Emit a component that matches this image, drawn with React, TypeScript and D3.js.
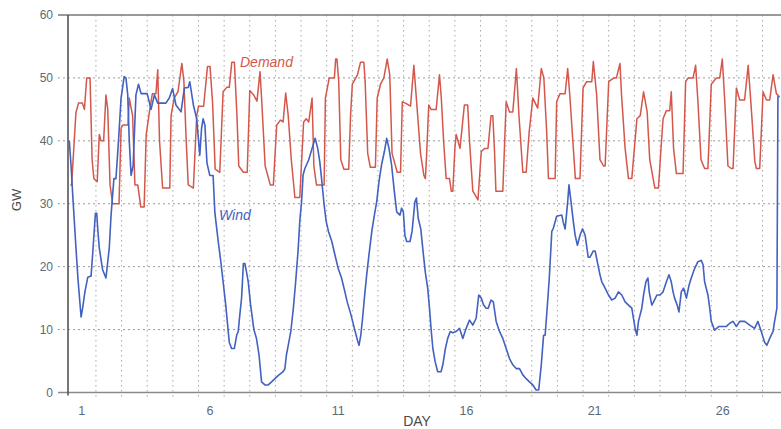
import React from "react";
import * as d3 from "d3";

// time in days from start of day 1, value in GW
const demand: [number, number][] = [
  [0.0, 33], [0.05, 33], [0.22, 44.5], [0.32, 46], [0.47, 46], [0.55, 45], [0.64, 50], [0.77, 50], [0.85, 37], [0.92, 34], [1.05, 33.5],
  [1.13, 41], [1.2, 40], [1.3, 40], [1.39, 47.3], [1.46, 45], [1.55, 33], [1.65, 30], [1.9, 30], [1.98, 42], [2.05, 42.5], [2.25, 42.5],
  [2.3, 46.8], [2.43, 44], [2.52, 33], [2.63, 33], [2.75, 29.5], [2.88, 29.5], [2.96, 41], [3.1, 45], [3.2, 47.5], [3.34, 47.5], [3.41, 51.3],
  [3.48, 40], [3.6, 32.5], [3.88, 32.5], [3.93, 44], [4.05, 46.8], [4.2, 47.8], [4.35, 52.3], [4.43, 49.5], [4.52, 40], [4.6, 33], [4.8, 32.5],
  [4.93, 44], [5.0, 45.5], [5.2, 45.5], [5.35, 51.8], [5.45, 51.8], [5.55, 46], [5.65, 35.5], [5.83, 35], [5.96, 47.8], [6.1, 48.5], [6.2, 48.5],
  [6.3, 52.5], [6.4, 52.5], [6.5, 44], [6.57, 36], [6.75, 35], [6.9, 35], [7.0, 48], [7.15, 47.3], [7.28, 46.3], [7.4, 51], [7.46, 46.8],
  [7.6, 36], [7.8, 33], [7.92, 33], [8.05, 42.5], [8.2, 43.3], [8.3, 43], [8.4, 47.6], [8.5, 44], [8.62, 37], [8.76, 31], [8.95, 31],
  [9.1, 43], [9.2, 43.5], [9.3, 43], [9.43, 46.8], [9.5, 36], [9.6, 33], [9.9, 33], [9.95, 46.8], [10.1, 50], [10.3, 50], [10.35, 53],
  [10.4, 53], [10.47, 49.4], [10.55, 37], [10.67, 35.5], [10.86, 35.5], [10.93, 44], [11.0, 49], [11.2, 50.5], [11.32, 52.5], [11.45, 52.5],
  [11.5, 49.4], [11.6, 38], [11.7, 35.8], [11.9, 35.8], [11.97, 46.8], [12.1, 49], [12.23, 50], [12.36, 53], [12.46, 50.5], [12.55, 38],
  [12.75, 35], [12.88, 35], [12.95, 46.2], [13.07, 46], [13.27, 45.5], [13.4, 52], [13.53, 45], [13.66, 38], [13.79, 34.5], [13.85, 34],
  [13.9, 38], [13.98, 45.7], [14.07, 45], [14.27, 45], [14.4, 50.5], [14.47, 46.8], [14.56, 40], [14.66, 34], [14.79, 34], [14.86, 32],
  [14.92, 32], [15.0, 38.8], [15.05, 41], [15.2, 38.8], [15.37, 45.7], [15.5, 45.7], [15.57, 40], [15.7, 32], [15.9, 30.6], [16.03, 38.3],
  [16.16, 38.8], [16.29, 38.8], [16.41, 44], [16.48, 44], [16.55, 38], [16.6, 32], [16.87, 32], [17.0, 46.2], [17.13, 44.6], [17.26, 44.6],
  [17.4, 51.5], [17.5, 44], [17.65, 35], [17.78, 35], [17.9, 41.5], [18.04, 46.8], [18.23, 45.2], [18.37, 51.5], [18.47, 50], [18.58, 41.5],
  [18.65, 34], [18.91, 34], [18.97, 46.2], [19.1, 47.5], [19.3, 47.5], [19.4, 51.5], [19.49, 46.8], [19.62, 38.8], [19.7, 34], [19.88, 34],
  [20.0, 48.4], [20.14, 49.4], [20.34, 49.4], [20.4, 52.6], [20.53, 47.3], [20.66, 37], [20.8, 36], [20.86, 36], [21.0, 49.4], [21.2, 50],
  [21.3, 50], [21.44, 52.3], [21.5, 47.3], [21.64, 38.8], [21.77, 34], [21.9, 34], [22.1, 43.5], [22.23, 44], [22.36, 47.8], [22.5, 44.6],
  [22.6, 37], [22.8, 32.5], [22.94, 32.5], [23.04, 38.8], [23.12, 43.5], [23.25, 44.8], [23.38, 44.8], [23.44, 47.8], [23.53, 38.8],
  [23.64, 34.8], [23.9, 34.8], [24.0, 49.4], [24.1, 50], [24.29, 50], [24.39, 52], [24.48, 46.2], [24.6, 37], [24.74, 35.6], [24.87, 35.6],
  [25.0, 49], [25.2, 50], [25.33, 50], [25.43, 53], [25.52, 46.8], [25.65, 36], [25.78, 35.6], [25.85, 35.6], [25.98, 48.4], [26.11, 46.5],
  [26.3, 46.5], [26.44, 52], [26.56, 45.2], [26.7, 36.7], [26.76, 35.6], [26.89, 35.6], [27.02, 47.8], [27.15, 46.5], [27.28, 46.5],
  [27.41, 50.5], [27.54, 47.5], [27.66, 47],
];

const wind: [number, number][] = [
  [-0.04, 40], [0.03, 36], [0.1, 31], [0.22, 23], [0.3, 18], [0.42, 12], [0.48, 13.4], [0.57, 16], [0.68, 18.3], [0.81, 18.5], [0.87, 21.9],
  [0.98, 28.5], [1.03, 28.5], [1.07, 26], [1.13, 23], [1.26, 19.5], [1.39, 18.2], [1.52, 23], [1.59, 28.2], [1.7, 34], [1.78, 34], [1.88, 40],
  [1.98, 46.8], [2.1, 50.2], [2.17, 50], [2.24, 47.3], [2.3, 40], [2.37, 34.5], [2.45, 36], [2.56, 47.3], [2.66, 49], [2.76, 47.5], [3.0, 47.5],
  [3.15, 45], [3.28, 47.3], [3.41, 46], [3.73, 46], [3.86, 46.8], [3.99, 48.3], [4.12, 45.7], [4.32, 44.6], [4.45, 48.4], [4.6, 48.5],
  [4.66, 49.4], [4.8, 45.7], [4.93, 43.5], [5.05, 37.7], [5.12, 42], [5.18, 43.5], [5.25, 42.5], [5.33, 36.5], [5.44, 34.5], [5.57, 34.5],
  [5.64, 28.5], [5.77, 24], [5.87, 20.8], [5.96, 17.6], [6.06, 14], [6.2, 8], [6.29, 7], [6.4, 7], [6.49, 9.1], [6.55, 9.7], [6.61, 12.3],
  [6.68, 15], [6.75, 20.5], [6.81, 20.5], [6.87, 19.2], [6.94, 17.6], [7.03, 14], [7.16, 10], [7.26, 8.6], [7.36, 6], [7.46, 1.7], [7.59, 1.2],
  [7.72, 1.2], [7.85, 1.7], [7.98, 2.2], [8.14, 2.8], [8.3, 3.3], [8.37, 3.8], [8.43, 6], [8.5, 7.5], [8.6, 9.7], [8.7, 13.4], [8.79, 17.6],
  [8.89, 22.9], [8.95, 27.2], [9.02, 30.3], [9.08, 34.6], [9.15, 35.6], [9.3, 37], [9.43, 38.8], [9.55, 40.4], [9.65, 38.8], [9.73, 36.7],
  [9.8, 34], [9.9, 29.8], [9.98, 27.2], [10.07, 25.6], [10.2, 24], [10.32, 21.9], [10.45, 19.7], [10.58, 18.2], [10.71, 16], [10.8, 14.4],
  [10.95, 12.3], [11.08, 10.2], [11.2, 8.3], [11.26, 7.5], [11.33, 9.1], [11.4, 11.8], [11.47, 15], [11.56, 18.7], [11.65, 21.9],
  [11.76, 25.6], [11.86, 28.2], [11.95, 30.3], [12.04, 33.5], [12.14, 36.2], [12.25, 38.3], [12.34, 40.4], [12.43, 38.8], [12.53, 36.2],
  [12.64, 31.9], [12.73, 28.7], [12.86, 28.2], [12.92, 29.3], [12.99, 28.7], [13.05, 25], [13.12, 24], [13.25, 24], [13.33, 25.6],
  [13.44, 30.3], [13.5, 30.9], [13.57, 27.7], [13.67, 26], [13.77, 22], [13.85, 19], [13.94, 16.6], [14.01, 13.4], [14.07, 10.2],
  [14.14, 7], [14.23, 4.9], [14.33, 3.3], [14.46, 3.3], [14.53, 4.4], [14.63, 7], [14.72, 8.6], [14.82, 9.7], [14.92, 9.5], [15.05, 9.7],
  [15.18, 10.2], [15.31, 8.6], [15.44, 10.2], [15.57, 11.5], [15.7, 10.7], [15.83, 11.8], [15.93, 15.5], [16.03, 15], [16.12, 13.9],
  [16.22, 13.4], [16.3, 13.4], [16.41, 14.7], [16.5, 14.4], [16.61, 11.3], [16.74, 9.7], [16.87, 8.6], [17.0, 7], [17.13, 5.4], [17.26, 4.4],
  [17.39, 3.8], [17.52, 3.8], [17.65, 2.8], [17.78, 2.2], [17.91, 1.7], [18.04, 1.2], [18.17, 0.4], [18.27, 0.4], [18.37, 4.4], [18.46, 9.1],
  [18.52, 9.1], [18.58, 12.3], [18.68, 18], [18.78, 25.6], [18.84, 26.1], [18.97, 28], [19.17, 28.2], [19.23, 27], [19.3, 26], [19.4, 30.3],
  [19.45, 33], [19.53, 30.3], [19.62, 27.2], [19.69, 25], [19.78, 23.4], [19.88, 25], [19.98, 26], [20.08, 25], [20.2, 21.5], [20.27, 21.5],
  [20.4, 22.5], [20.47, 22.5], [20.53, 21.3], [20.66, 18.7], [20.73, 17.6], [20.86, 16.6], [20.99, 15.5], [21.12, 14.7], [21.25, 15],
  [21.38, 16], [21.51, 15.5], [21.64, 14.4], [21.77, 13.9], [21.9, 13.4], [22.03, 10.2], [22.1, 9.1], [22.16, 11.3], [22.29, 13.4],
  [22.36, 15.5], [22.45, 17.6], [22.53, 18.2], [22.58, 16], [22.68, 13.9], [22.75, 14.4], [22.88, 15.5], [23.0, 15.5], [23.12, 16],
  [23.25, 17.6], [23.35, 18.7], [23.44, 17.6], [23.51, 16], [23.57, 15], [23.67, 13.9], [23.74, 12.8], [23.83, 16], [23.92, 16.6],
  [24.03, 15], [24.13, 17], [24.22, 18.2], [24.35, 19.7], [24.48, 20.8], [24.61, 21], [24.68, 20.3], [24.74, 17.6], [24.87, 15.5],
  [24.94, 13.4], [25.0, 11.3], [25.13, 9.9], [25.3, 10.5], [25.59, 10.5], [25.72, 11], [25.85, 11.3], [25.98, 10.5], [26.11, 11.3],
  [26.3, 11.3], [26.5, 10.7], [26.69, 10.2], [26.82, 11.3], [26.95, 9.7], [27.08, 8], [27.17, 7.5], [27.28, 8.6], [27.41, 9.7],
  [27.47, 11.3], [27.56, 13.4], [27.6, 47], [27.66, 47],
];

const yTicks = [0, 10, 20, 30, 40, 50, 60];
const dayLabels = [1, 6, 11, 16, 21, 26];
const dayBoundaries = d3.range(1, 28);

const W = 781;
const H = 429;
const FONT = "'Liberation Sans', Arial, sans-serif";

export default function App() {
  const x = d3.scaleLinear().domain([-0.09, 27.72]).range([68, 781]);
  const y = d3.scaleLinear().domain([0, 60]).range([392.5, 15]);
  const line = d3
    .line<[number, number]>()
    .x((d) => x(d[0]))
    .y((d) => y(d[1]))
    .curve(d3.curveLinear);

  return (
    <svg
      width={W}
      height={H}
      style={{ position: "absolute", left: 0, top: 0, background: "#fff" }}
      fontFamily={FONT}
    >
      {/* horizontal grid */}
      {yTicks
        .filter((t) => t > 0 && t < 60)
        .map((t) => (
          <line
            key={"h" + t}
            x1={58}
            x2={W}
            y1={y(t)}
            y2={y(t)}
            stroke="#9a9a9a"
            strokeWidth={1}
            strokeDasharray="2,3"
          />
        ))}
      {/* vertical grid */}
      {dayBoundaries.map((d) => (
        <line
          key={"v" + d}
          x1={x(d)}
          x2={x(d)}
          y1={y(60)}
          y2={398}
          stroke="#a8a8a8"
          strokeWidth={1}
          strokeDasharray="1.5,3.5"
        />
      ))}
      {/* frame */}
      <line x1={58} x2={W} y1={y(60)} y2={y(60)} stroke="#777" strokeWidth={1.6} />
      <line x1={58} x2={W} y1={y(0)} y2={y(0)} stroke="#8a8a8a" strokeWidth={1.6} />
      <line x1={68} x2={68} y1={y(60)} y2={y(0) + 3} stroke="#555" strokeWidth={1.6} />

      {/* series */}
      <path d={line(demand) || ""} fill="none" stroke="#d4574c" strokeWidth={1.5} strokeLinejoin="round" />
      <path d={line(wind) || ""} fill="none" stroke="#4261c0" strokeWidth={1.6} strokeLinejoin="round" />

      {/* y tick labels */}
      {yTicks.map((t) => (
        <text
          key={"yl" + t}
          x={53}
          y={y(t)}
          dy="0.35em"
          textAnchor="end"
          fontSize={12}
          fill="#5b6a78"
        >
          {t}
        </text>
      ))}
      {/* x tick labels */}
      {dayLabels.map((d) => (
        <text
          key={"xl" + d}
          x={x(d - 1 + 0.45)}
          y={415}
          textAnchor="middle"
          fontSize={12.5}
          fill="#5b6a78"
        >
          {d}
        </text>
      ))}

      <text x={417} y={426} textAnchor="middle" fontSize={14} fill="#4a4a4a">
        DAY
      </text>
      <text
        transform={`translate(21,${200}) rotate(-90)`}
        textAnchor="middle"
        fontSize={13}
        fill="#4a4a4a"
      >
        GW
      </text>

      <text x={240} y={67} fontSize={14} fontStyle="italic" fill="#d4574c">
        Demand
      </text>
      <text x={219} y={220} fontSize={14} fontStyle="italic" fill="#4261c0">
        Wind
      </text>
    </svg>
  );
}
